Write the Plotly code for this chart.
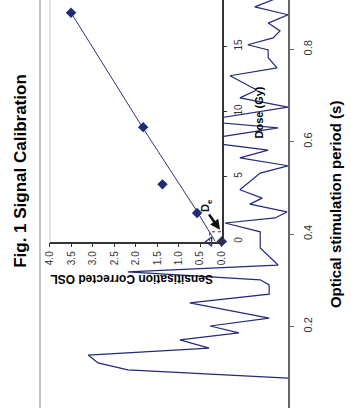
import plotly.graph_objects as go

# OSL shine-down signal: stimulation time (s) and counts per channel
time_s = [0.088, 0.106, 0.121, 0.138, 0.153, 0.171, 0.186, 0.201, 0.218, 0.251,
          0.270, 0.290, 0.301, 0.318, 0.333, 0.370, 0.405, 0.424, 0.435, 0.448,
          0.465, 0.478, 0.496, 0.532, 0.548, 0.565, 0.582, 0.602, 0.630, 0.645,
          0.675, 0.695, 0.712, 0.743, 0.760, 0.782, 0.799, 0.810, 0.825, 0.840,
          0.857, 0.875, 0.892, 0.918]
signal = [0, 3230, 3830, 4030, 1590, 2180, 990, 1570, 380, 1980,
          380, 380, 560, 3230, 200, 560, 560, 1270, 260, 20,
          770, 520, 970, 560, 0, 970, 400, 1880, 200, 1770,
          0, 970, 630, 1170, 220, 400, 400, 810, 300, 160,
          400, 0, 670, 60]
signal_max = 5000
time_range = [0.0234, 0.907]
time_ticks = [0.0, 0.2, 0.4, 0.6, 0.8]
time_labels = ["0", "0.2", "0.4", "0.6", "0.8"]

# Dose-response (inset)
dose_gy = [0.0, 2.2, 4.4, 8.8, 17.6]
osl_corr = [0.0, 0.574, 1.38, 1.83, 3.51]
fit_dose = [0.0, 2.4, 8.7, 14.0, 17.6]
fit_osl = [0.15, 0.59, 1.83, 2.84, 3.51]
natural_osl = 0.28
de_gy = 0.75
osl_ticks = [0.0, 0.5, 1.0, 1.5, 2.0, 2.5, 3.0, 3.5, 4.0]
osl_labels = ["0.0", "0.5", "1.0", "1.5", "2.0", "2.5", "3.0", "3.5", "4.0"]
dose_ticks = [0, 5, 10, 15]
dose_labels = ["0", "5", "10", "15"]
dose_range = [0, 18.58]
osl_range = [4.0, 0.0]

NAVY = "#232a7c"
FONT = "Arial, Liberation Sans, sans-serif"

fig = go.Figure()

fig.add_trace(go.Scatter(
    x=signal, y=time_s, mode="lines",
    line=dict(color=NAVY, width=1.2),
    xaxis="x", yaxis="y", hoverinfo="skip", showlegend=False))

# opaque inset background so the shine-down trace is hidden behind it
fig.add_trace(go.Scatter(
    x=[osl_range[0], osl_range[1], osl_range[1], osl_range[0], osl_range[0]],
    y=[dose_range[0], dose_range[0], dose_range[1], dose_range[1], dose_range[0]],
    mode="lines", fill="toself", fillcolor="white",
    line=dict(width=0, color="white"),
    xaxis="x2", yaxis="y2", hoverinfo="skip", showlegend=False))

fig.add_trace(go.Scatter(
    x=fit_osl, y=fit_dose, mode="lines",
    line=dict(color="#2a3388", width=1),
    xaxis="x2", yaxis="y2", hoverinfo="skip", showlegend=False))

fig.add_trace(go.Scatter(
    x=[natural_osl, natural_osl, 0], y=[0, de_gy, de_gy], mode="lines",
    line=dict(color="#333333", width=1, dash="dot"),
    xaxis="x2", yaxis="y2", hoverinfo="skip", showlegend=False))

fig.add_trace(go.Scatter(
    x=osl_corr, y=dose_gy, mode="markers",
    marker=dict(symbol="diamond", size=8, color="#1f2a78"),
    cliponaxis=False,
    xaxis="x2", yaxis="y2", hoverinfo="skip", showlegend=False))

fig.add_trace(go.Scatter(
    x=[natural_osl], y=[0], mode="markers",
    marker=dict(symbol="triangle-left-open", size=8, color=NAVY,
                line=dict(width=1.2, color=NAVY)),
    cliponaxis=False,
    xaxis="x2", yaxis="y2", hoverinfo="skip", showlegend=False))

fig.update_layout(
    width=351, height=408,
    margin=dict(l=40, r=63, t=0, b=0),
    paper_bgcolor="white", plot_bgcolor="white",
    font=dict(family=FONT, color="#333333"),
    showlegend=False,
    xaxis=dict(domain=[0, 1], range=[signal_max, 0], visible=False,
               showgrid=False, zeroline=False),
    yaxis=dict(domain=[0, 1], range=time_range, side="right",
               showgrid=False, zeroline=False,
               showline=True, linecolor="#666666", linewidth=2,
               ticks="outside", ticklen=4, tickcolor="#666666",
               tickvals=time_ticks, ticktext=time_labels,
               ticklabelstandoff=5,
               tickangle=-90, tickfont=dict(size=11, color="#333333")),
    xaxis2=dict(domain=[0.0403, 0.7327], anchor="y2", range=osl_range,
                showgrid=False, zeroline=False,
                showline=True, linecolor="#333333", linewidth=1.5,
                ticks="outside", ticklen=4, tickcolor="#333333",
                tickvals=osl_ticks, ticktext=osl_labels,
                tickangle=-90, tickfont=dict(size=10, color="#333333")),
    yaxis2=dict(domain=[0.408, 1.0], anchor="x2", range=dose_range, side="right",
                showgrid=False, zeroline=False,
                showline=True, linecolor="#333333", linewidth=1.5,
                ticks="outside", ticklen=4, tickcolor="#333333",
                tickvals=dose_ticks, ticktext=dose_labels,
                ticklabelstandoff=3,
                tickangle=-90, tickfont=dict(size=10, color="#333333")),
)

# frame edges
fig.add_shape(type="line", xref="paper", yref="paper", x0=0, x1=0, y0=0, y1=1,
              line=dict(color="#c4c4c4", width=2), layer="above")
fig.add_shape(type="line", xref="x2 domain", yref="y2 domain", x0=0, x1=0, y0=0, y1=1,
              line=dict(color="#c8c8c8", width=1), layer="above")


def label(text, x, y, angle, size):
    fig.add_annotation(text=text, xref="paper", yref="paper", x=x, y=y,
                       xanchor="center", yanchor="middle", textangle=angle,
                       showarrow=False,
                       font=dict(size=size, color="#000000", family=FONT))


# titles
label("<b>Fig. 1 Signal Calibration</b>", -0.077, 0.581, -90, 17)
label("<b>Optical stimulation period (s)</b>", 1.19, 0.5, -90, 15)
label("<b>Sensitisation Corrected OSL</b>", 0.371, 0.316, 180, 12)
label("<b>Dose (Gy)</b>", 0.885, 0.7255, -90, 11)

# equivalent dose marker
fig.add_annotation(x=0.04, y=0.9, xref="x2", yref="y2",
                   ax=0.32, ay=2.2, axref="x2", ayref="y2",
                   text="", showarrow=True, arrowhead=2, arrowsize=0.8,
                   arrowwidth=2.5, arrowcolor="#111111")
fig.add_annotation(text="<b>D<sub>e</sub></b>", x=0.36, y=2.75, xref="x2", yref="y2",
                   xanchor="center", yanchor="middle",
                   textangle=-90, showarrow=False,
                   font=dict(size=11, color="#111111", family=FONT))

fig.write_html("out.html")
